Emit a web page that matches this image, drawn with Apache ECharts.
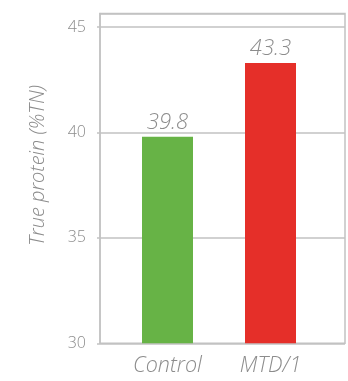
<!DOCTYPE html>
<html>
<head>
<meta charset="utf-8">
<script src="https://cdn.jsdelivr.net/npm/echarts@6/dist/echarts.min.js"></script>
<style>
  html, body { margin: 0; padding: 0; background: #fff; }
  #chart { width: 348px; height: 381px; }
</style>
</head>
<body>
<div id="chart"></div>
<script>
// data
const categories = ["Control", "MTD/1"];
const proteinValues = [39.8, 43.3];
const barColors = ["#67b346", "#e52f29"];
const yTicks = [30, 35, 40, 45];

const textGray = "#8c8c8c";
const lineGray = "#c2c2c2";
const font = "'Open Sans', sans-serif";

const chart = echarts.init(document.getElementById("chart"));

const yMin = yTicks[0];
const yMax = 45.65; // the frame runs a little above the last tick

const option = {
    animation: false,
    grid: [
        // frame + value axis
        { left: 100, right: 3, top: 13.5, bottom: 37.7, show: true, borderColor: lineGray, borderWidth: 1.5 },
        // bars sit a bit inward of the frame
        { left: 116, right: 26, top: 13.5, bottom: 37.7 }
    ],
    xAxis: [
        { gridIndex: 0, type: "value", show: false },
        {
            gridIndex: 1,
            type: "category",
            data: categories,
            axisLine: { show: false },
            axisTick: { show: false },
            axisLabel: {
                margin: 12,
                color: textGray,
                fontFamily: font,
                fontStyle: "italic",
                fontWeight: 300,
                fontSize: 21.5
            }
        }
    ],
    yAxis: [
        {
            gridIndex: 0,
            type: "value",
            min: yMin,
            max: yMax,
            interval: 5,
            name: "True protein (%TN)",
            nameLocation: "middle",
            nameRotate: 90,
            nameGap: 52,
            nameTextStyle: {
                color: textGray,
                fontFamily: font,
                fontStyle: "italic",
                fontWeight: 300,
                fontSize: 20,
                padding: [0, 0, 0, 26]
            },
            axisLine: { show: true, lineStyle: { color: lineGray, width: 1.5 } },
            axisTick: { show: true, length: 3, lineStyle: { color: lineGray, width: 1.5 } },
            axisLabel: {
                margin: 14,
                color: textGray,
                fontFamily: font,
                fontWeight: 300,
                fontSize: 16,
                showMaxLabel: false,
                formatter: (v) => (yTicks.includes(v) ? String(v) : "")
            },
            splitLine: { show: true, lineStyle: { color: lineGray, width: 1.5 } }
        },
        { gridIndex: 1, type: "value", min: yMin, max: yMax, show: false }
    ],
    series: [
        {
            type: "bar",
            xAxisIndex: 1,
            yAxisIndex: 1,
            barWidth: 51,
            data: proteinValues.map((v, i) => ({ value: v, itemStyle: { color: barColors[i] } })),
            label: {
                show: true,
                position: "top",
                distance: 3,
                color: textGray,
                fontFamily: font,
                fontStyle: "italic",
                fontWeight: 300,
                fontSize: 22,
                formatter: (p) => p.value.toFixed(1)
            }
        }
    ]
};

chart.setOption(option);
</script>
</body>
</html>
